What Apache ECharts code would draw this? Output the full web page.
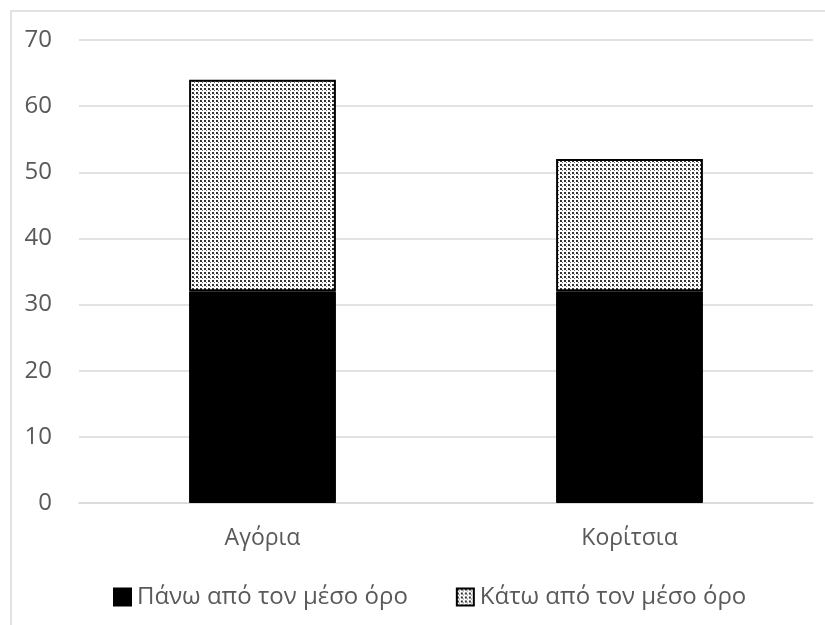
<!DOCTYPE html>
<html><head><meta charset="utf-8">
<script src="https://cdn.jsdelivr.net/npm/echarts@6/dist/echarts.min.js"></script>
<style>html,body{margin:0;padding:0;background:#fff}#c{width:825px;height:625px}</style>
</head><body><div id="c"></div>
<script>
const categories = ['Αγόρια', 'Κορίτσια'];
const aboveAvg = [32, 32];
const belowAvg = [32, 20];
const seriesNames = ['Πάνω από τον μέσο όρο', 'Κάτω από τον μέσο όρο'];

function makePattern() {
  const c = document.createElement('canvas');
  c.width = 4; c.height = 4;
  const g = c.getContext('2d');
  g.fillStyle = '#fff'; g.fillRect(0, 0, 4, 4);
  g.fillStyle = '#333'; g.fillRect(0, 0, 2, 2);
  g.fillStyle = '#666'; g.fillRect(2, 2, 1, 1);
  return c;
}
const pat = { image: makePattern(), repeat: 'repeat' };

const chart = echarts.init(document.getElementById('c'), null, { renderer: 'canvas' });
const font = "'Open Sans', 'Noto Sans', sans-serif";
chart.setOption({
  animation: false,
  backgroundColor: '#fff',
  graphic: [{
    type: 'rect', shape: { x: 11, y: 11, width: 900, height: 700 },
    style: { fill: 'none', stroke: '#d9d9d9', lineWidth: 1.5 }, silent: true, z: -1
  }],
  grid: { left: 79, right: 12, top: 40, bottom: 122, containLabel: false },
  xAxis: {
    type: 'category', data: categories,
    axisLine: { show: true, lineStyle: { color: '#d9d9d9', width: 1.5 } },
    axisTick: { show: false },
    axisLabel: { color: '#595959', fontSize: 23, fontFamily: font, margin: 24 }
  },
  yAxis: {
    type: 'value', min: 0, max: 70, interval: 10,
    axisLine: { show: false }, axisTick: { show: false },
    splitLine: { lineStyle: { color: '#d9d9d9', width: 1.5 } },
    axisLabel: { color: '#595959', fontSize: 24, fontFamily: font, margin: 27 }
  },
  legend: {
    top: 585, left: 113, itemWidth: 17, itemHeight: 17, itemGap: 48, padding: 0,
    textStyle: { color: '#595959', fontSize: 24, fontFamily: font, lineHeight: 17, padding: [0, 0, 0, 1] },
    data: seriesNames.map(n => ({ name: n, icon: 'rect' }))
  },
  series: [
    { name: seriesNames[0], type: 'bar', stack: 's', data: aboveAvg, barWidth: '40%',
      itemStyle: { color: '#000', borderColor: '#000', borderWidth: 1 } },
    { name: seriesNames[1], type: 'bar', stack: 's', data: belowAvg, barWidth: '40%',
      itemStyle: { color: pat, borderColor: '#000', borderWidth: 2 } }
  ]
});
</script></body></html>
